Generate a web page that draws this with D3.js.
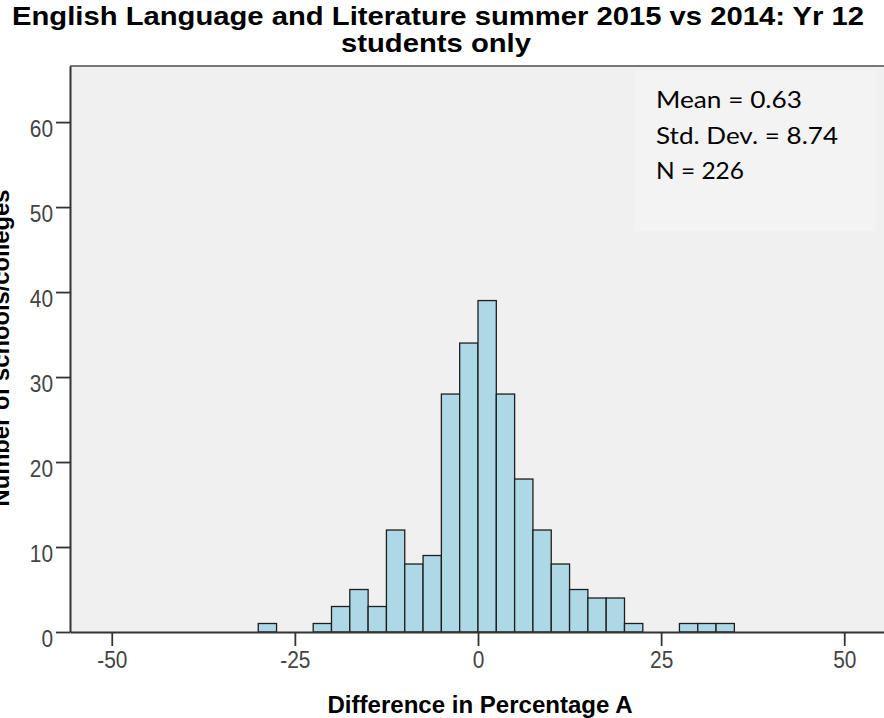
<!DOCTYPE html>
<html>
<head>
<meta charset="utf-8">
<script src="https://cdn.jsdelivr.net/npm/d3@7"></script>
<style>
  html, body { margin: 0; padding: 0; background: #ffffff; }
  svg { display: block; }
</style>
</head>
<body>
<div id="chart"></div>
<script>
// ---------- data ----------
const titleLines = ["English Language and Literature summer 2015 vs 2014: Yr 12", "students only"];
const xLabel = "Difference in Percentage A";
const yLabel = "Number of schools/colleges";
const binWidth = 2.5;
const binStarts = [-30, -22.5, -20, -17.5, -15, -12.5, -10, -7.5, -5, -2.5, 0, 2.5, 5, 7.5, 10, 12.5, 15, 17.5, 20, 27.5, 30, 32.5];
const binCounts = [1, 1, 3, 5, 3, 12, 8, 9, 28, 34, 39, 28, 18, 12, 8, 5, 4, 4, 1, 1, 1, 1];
const xTicks = [-50, -25, 0, 25, 50];
const yTicks = [0, 10, 20, 30, 40, 50, 60];
const statsLines = ["Mean = 0.63", "Std. Dev. = 8.74", "N = 226"];
const xDomain = [-55.7, 55.7];
const yDomain = [0, 66.6];

// ---------- layout ----------
const W = 884, H = 718;
const plot = { left: 70, right: 886, top: 66, bottom: 632 };

const svg = d3.select("#chart").append("svg")
  .attr("width", W).attr("height", H);

const x = d3.scaleLinear().domain(xDomain).range([plot.left, plot.right]);
const y = d3.scaleLinear().domain(yDomain).range([plot.bottom, plot.top]);
const fmt = d => String(d); // plain hyphen-minus as in the reference

function fit(sel, factor) {
  sel.each(function () {
    const len = this.getComputedTextLength();
    d3.select(this).attr("textLength", len * factor).attr("lengthAdjust", "spacingAndGlyphs");
  });
}
function fitTo(sel, width) {
  sel.attr("textLength", width).attr("lengthAdjust", "spacingAndGlyphs");
}

// plot background
svg.append("rect")
  .attr("x", plot.left).attr("y", plot.top)
  .attr("width", plot.right - plot.left).attr("height", plot.bottom - plot.top)
  .attr("fill", "#f0f0f0");

// stats box
svg.append("rect")
  .attr("x", 635).attr("y", 70).attr("width", 241).attr("height", 161)
  .attr("fill", "#f3f3f3");

// bars
svg.append("g").selectAll("rect")
  .data(binStarts.map((s, i) => ({ s, c: binCounts[i] })))
  .join("rect")
  .attr("x", d => x(d.s))
  .attr("y", d => y(d.c))
  .attr("width", d => x(d.s + binWidth) - x(d.s))
  .attr("height", d => y(0) - y(d.c))
  .attr("fill", "#add8e6")
  .attr("stroke", "#1e1e1e")
  .attr("stroke-width", 1.3);

// top frame line
svg.append("line")
  .attr("x1", plot.left).attr("x2", plot.right)
  .attr("y1", plot.top).attr("y2", plot.top)
  .attr("stroke", "#777").attr("stroke-width", 2.2);

// y axis
const yAxis = d3.axisLeft(y).tickValues(yTicks).tickSizeInner(14).tickSizeOuter(0).tickPadding(3).tickFormat(fmt);
const gy = svg.append("g").attr("transform", `translate(${plot.left},0)`).call(yAxis);
gy.select(".domain").attr("stroke", "#333").attr("stroke-width", 2);
gy.selectAll(".tick line").attr("stroke", "#333").attr("stroke-width", 1.8);
gy.selectAll(".tick text")
  .attr("font-family", "'Liberation Sans', Arial, sans-serif")
  .attr("font-size", 24).attr("fill", "#444")
  .attr("dy", "0.62em");
fit(gy.selectAll(".tick text"), 0.87);

// x axis
const xAxis = d3.axisBottom(x).tickValues(xTicks).tickSizeInner(14).tickSizeOuter(0).tickPadding(5).tickFormat(fmt);
const gx = svg.append("g").attr("transform", `translate(0,${plot.bottom})`).call(xAxis);
gx.select(".domain").attr("stroke", "#333").attr("stroke-width", 2);
gx.selectAll(".tick line").attr("stroke", "#333").attr("stroke-width", 1.8);
gx.selectAll(".tick text")
  .attr("font-family", "'Liberation Sans', Arial, sans-serif")
  .attr("font-size", 24).attr("fill", "#444")
  .attr("dy", "0.72em");
fit(gx.selectAll(".tick text"), 0.87);

// title
const t1 = svg.append("text")
  .attr("x", 438).attr("y", 25).attr("text-anchor", "middle")
  .attr("font-family", "'Liberation Sans', Arial, sans-serif")
  .attr("font-weight", "bold").attr("font-size", 26).attr("fill", "#000")
  .text(titleLines[0]);
fitTo(t1, 852);
const t2 = svg.append("text")
  .attr("x", 436).attr("y", 52).attr("text-anchor", "middle")
  .attr("font-family", "'Liberation Sans', Arial, sans-serif")
  .attr("font-weight", "bold").attr("font-size", 26).attr("fill", "#000")
  .text(titleLines[1]);
fitTo(t2, 190);

// x label
const xl = svg.append("text")
  .attr("x", 480).attr("y", 713).attr("text-anchor", "middle")
  .attr("font-family", "'Liberation Sans', Arial, sans-serif")
  .attr("font-weight", "bold").attr("font-size", 24).attr("fill", "#000")
  .text(xLabel);
fitTo(xl, 305);

// y label (partly cut off at the left edge, as in the reference)
const yl = svg.append("text")
  .attr("transform", "translate(9,348) rotate(-90)")
  .attr("text-anchor", "middle")
  .attr("font-family", "'Liberation Sans', Arial, sans-serif")
  .attr("font-weight", "bold").attr("font-size", 24).attr("fill", "#000")
  .text(yLabel);
fitTo(yl, 317);

// stats
const statWidths = [146, 182, 88];
const statY = [108, 143.5, 179];
statsLines.forEach((s, i) => {
  const t = svg.append("text")
    .attr("x", 656).attr("y", statY[i])
    .attr("font-family", "Lato, 'Open Sans', sans-serif")
    .attr("font-size", 24).attr("fill", "#000")
    .text(s);
  fitTo(t, statWidths[i]);
});
</script>
</body>
</html>
